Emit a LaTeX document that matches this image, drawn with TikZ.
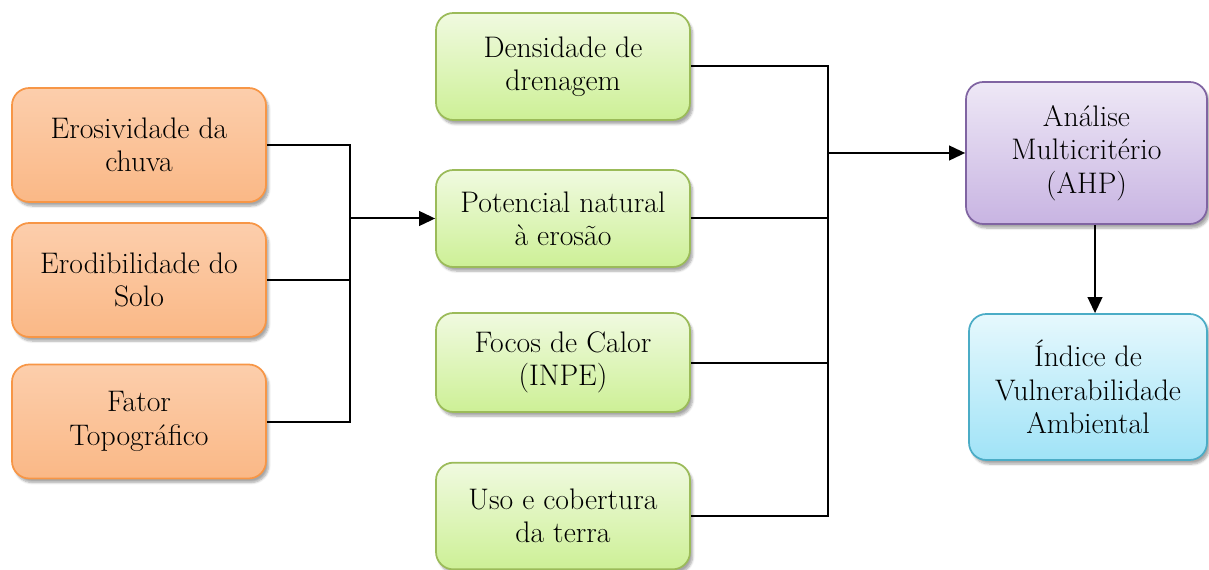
\documentclass[tikz,border=0pt]{standalone}
\usetikzlibrary{arrows.meta,shadows.blur}
\tikzset{
  boxbase/.style={draw, line width=1.3pt, rounded corners=13pt, align=center, inner sep=0pt,
    font=\rmfamily\fontsize{22.3}{25}\selectfont,
    blur shadow={shadow xshift=2pt, shadow yshift=-3pt, shadow blur steps=6, shadow opacity=35}},
  orangebox/.style={boxbase, draw={rgb,255:red,247;green,150;blue,70},
    top color={rgb,255:red,252;green,206;blue,172}, bottom color={rgb,255:red,250;green,184;blue,134},
    minimum width=190.5pt, minimum height=85.5pt},
  greenbox/.style={boxbase, draw={rgb,255:red,155;green,187;blue,89},
    top color={rgb,255:red,240;green,250;blue,224}, bottom color={rgb,255:red,205;green,240;blue,150},
    minimum width=190.5pt},
  purplebox/.style={boxbase, draw={rgb,255:red,128;green,100;blue,162},
    top color={rgb,255:red,238;green,232;blue,246}, bottom color={rgb,255:red,200;green,180;blue,226}},
  cyanbox/.style={boxbase, draw={rgb,255:red,75;green,172;blue,198},
    top color={rgb,255:red,230;green,248;blue,253}, bottom color={rgb,255:red,160;green,227;blue,247}},
  conn/.style={line width=1.5pt, draw=black},
  arr/.style={conn, -{Triangle[length=12pt,width=11pt]}}
}
\begin{document}
\begin{tikzpicture}[x=0.75pt,y=-0.75pt]
\useasboundingbox (0,0) rectangle (1209,570);
% orange
\node[orangebox] (ero) at (139,145) {Erosividade da\\chuva};
\node[orangebox] (erod) at (139,280) {Erodibilidade do\\Solo};
\node[orangebox] (fat) at (139,421.5) {Fator\\Topográfico};
% green
\node[greenbox, minimum height=80.25pt] (den) at (563,66.5) {Densidade de\\drenagem};
\node[greenbox, minimum height=72.75pt] (pot) at (563,218.5) {Potencial natural\\à erosão};
\node[greenbox, minimum height=74.25pt] (foc) at (563,362.5) {Focos de Calor\\(INPE)};
\node[greenbox, minimum height=80pt] (uso) at (563,516) {Uso e cobertura\\da terra};
% right
\node[purplebox, minimum width=180.75pt, minimum height=106.5pt] (ahp) at (1086.5,153) {Análise\\Multicritério\\(AHP)};
\node[cyanbox, minimum width=178.5pt, minimum height=109.5pt] (ivu) at (1088,387) {Índice de\\Vulnerabilidade\\Ambiental};
% connectors left
\coordinate (bL) at (350,218.5);
\draw[conn] (ero.east) -| (bL);
\draw[conn] (fat.east) -| (bL);
\draw[conn] (erod.east) -- (erod.east -| bL);
\draw[arr] (bL) -- (pot.west);
% connectors right
\coordinate (bR) at (828,153);
\draw[conn] (den.east) -| (bR);
\draw[conn] (uso.east) -| (bR);
\draw[conn] (pot.east) -- (pot.east -| bR);
\draw[conn] (foc.east) -- (foc.east -| bR);
\draw[arr] (bR) -- (ahp.west);
% down
\coordinate (cx) at (1095,0);
\draw[arr] (ahp.south -| cx) -- (ivu.north -| cx);
\end{tikzpicture}
\end{document}
